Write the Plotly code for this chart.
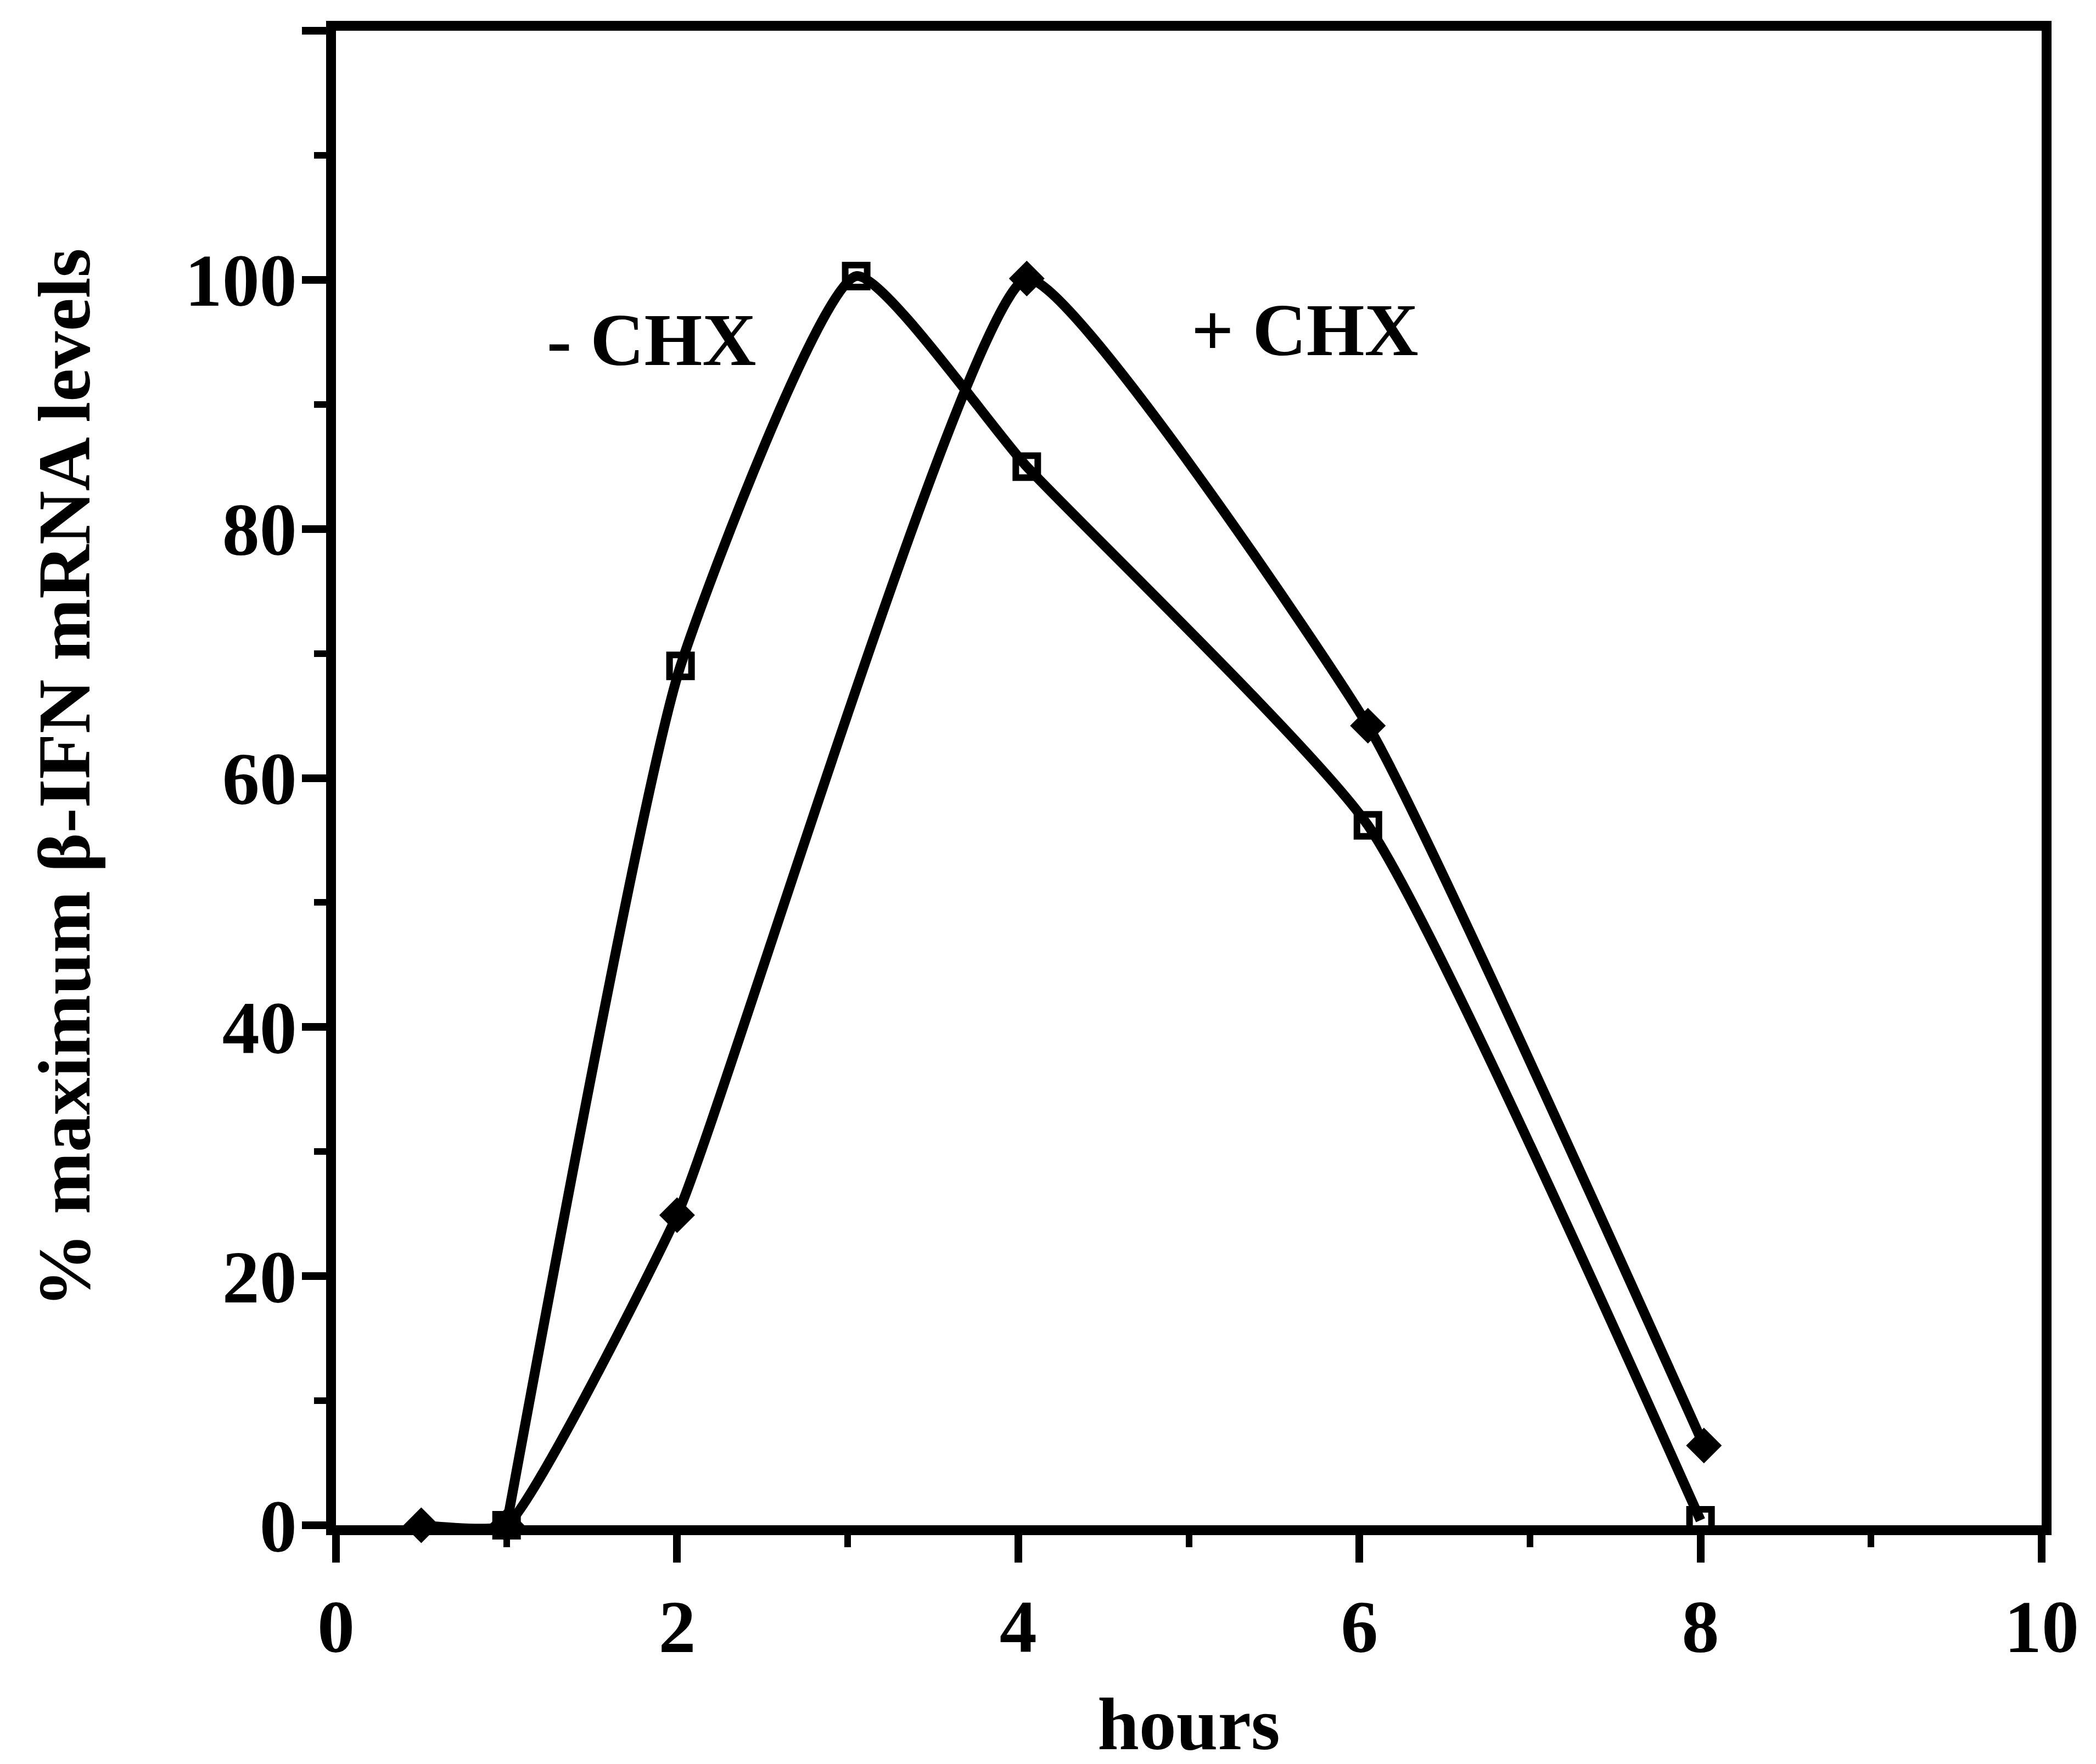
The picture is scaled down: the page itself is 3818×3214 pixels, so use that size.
import plotly.graph_objects as go

# Data
hours_minus = [1.0, 2.02, 3.05, 4.05, 6.05, 8.0]
minus_chx = [0.0, 69.0, 100.3, 85.0, 56.2, 0.4]

hours_plus = [0.5, 1.0, 2.0, 4.05, 6.05, 8.02]
plus_chx = [0.0, 0.0, 24.9, 100.1, 64.2, 6.4]

x_ticks = [0, 2, 4, 6, 8, 10]
y_ticks = [0, 20, 40, 60, 80, 100, 120]
y_ticktext = ["0", "20", "40", "60", "80", "100", ""]

FONT = "Liberation Serif"
FS = 136
LW = 18

def f(size=FS):
    return dict(family=FONT, size=size, color="black", weight="bold")

fig = go.Figure()

fig.add_trace(go.Scatter(
    x=hours_minus, y=minus_chx, mode="lines+markers", name="- CHX",
    line=dict(color="black", width=LW, shape="spline", smoothing=0.5),
    marker=dict(symbol="square-open", size=40, color="black", line=dict(width=12, color="black")),
    cliponaxis=False,
))
fig.add_trace(go.Scatter(
    x=hours_plus, y=plus_chx, mode="lines+markers", name="+ CHX",
    line=dict(color="black", width=LW, shape="spline", smoothing=0.4),
    marker=dict(symbol="diamond", size=50, color="black", line=dict(width=0)),
    cliponaxis=False,
))

fig.add_annotation(x=1.85, y=95.2, text="- CHX", showarrow=False,
                   font=f(), xanchor="center", yanchor="middle")
fig.add_annotation(x=5.68, y=96.0, text="+ CHX", showarrow=False,
                   font=f(), xanchor="center", yanchor="middle")

fig.update_xaxes(
    range=[0, 10], tickvals=x_ticks, ticktext=[str(v) for v in x_ticks],
    showline=True, linecolor="black", linewidth=LW, mirror=True,
    ticks="outside", ticklen=50, tickwidth=14, tickcolor="black",
    minor=dict(dtick=1, tick0=0, ticks="outside", ticklen=22, tickwidth=12, tickcolor="black"),
    showgrid=False, zeroline=False,
    tickfont=f(),
    title=dict(text="hours", font=f(), standoff=62),
)
fig.update_yaxes(
    range=[0, 120], tickvals=y_ticks, ticktext=y_ticktext,
    showline=True, linecolor="black", linewidth=LW, mirror=True,
    ticks="outside", ticklen=44, tickwidth=14, tickcolor="black",
    minor=dict(dtick=10, tick0=0, ticks="outside", ticklen=22, tickwidth=12, tickcolor="black"),
    showgrid=False, zeroline=False,
    tickfont=f(), ticklabelstandoff=-18,
    title=dict(text="% maximum β-IFN mRNA levels", font=f(), standoff=135),
)

fig.update_layout(
    width=3818, height=3214,
    margin=dict(l=604, r=107, t=48, b=443),
    plot_bgcolor="white", paper_bgcolor="white",
    showlegend=False,
    font=f(),
)

fig.write_html("out.html")
